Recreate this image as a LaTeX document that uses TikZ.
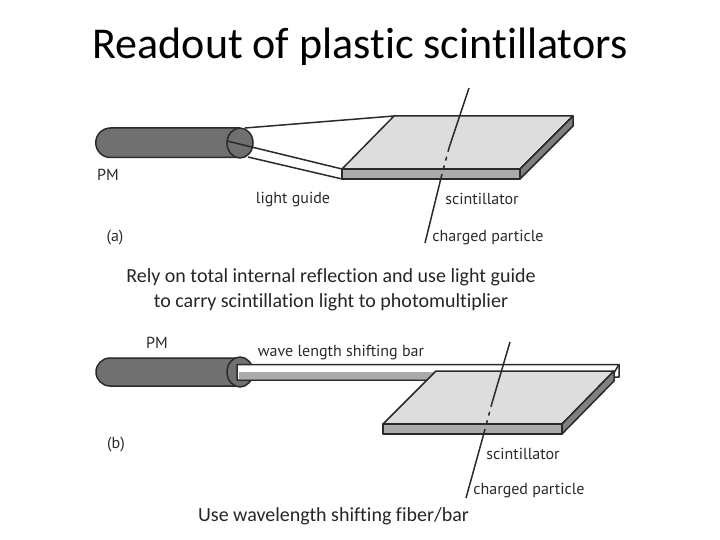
\documentclass[tikz,border=0pt]{standalone}
\usepackage{fontspec}
\setmainfont[Ligatures=NoCommon]{Carlito}
\newfontfamily\labelfont{PT Sans}
\usepackage{tikz}
\definecolor{pmgray}{HTML}{707070}
\definecolor{topgray}{HTML}{DDDDDD}
\definecolor{frontgray}{HTML}{ABABAB}
\definecolor{sidegray}{HTML}{808080}
\definecolor{inkgray}{HTML}{2A2A2A}

\begin{document}
\begin{tikzpicture}[
  x=1pt, y=-1pt,
  outline/.style={draw=inkgray, line width=1.5pt, line join=round},
  particle/.style={draw=inkgray, line width=1.5pt},
  partdash/.style={particle, dash pattern=on 4pt off 5pt},
  title/.style={inner sep=0pt, font=\fontsize{44}{47}\selectfont},
  caption/.style={inner sep=0pt, align=center, text=black!85, font=\fontsize{20}{25}\selectfont},
  tag/.style={inner sep=0pt, text=inkgray, font=\labelfont\fontsize{16}{18}\selectfont}
]
\useasboundingbox (0,0) rectangle (720,540);

\node[title] (head) at (360,47) {Readout of plastic scintillators};

% (a)
\coordinate (pa1) at (469,88);
\coordinate (pa2) at (449,148);
\coordinate (pa3) at (441,178);
\coordinate (pa4) at (425,243);
\draw[outline] (245,128) -- (394,116);
\draw[outline] (248,157) -- (342,179);
\draw[outline, fill=pmgray] (240,128) -- (110.5,128) arc (-90:-270:14.75) -- (240,157.5);
\draw[outline, fill=pmgray] (240,143) ellipse (13 and 15);
\draw[outline] (227,141) -- (342,169);
\draw[outline, fill=topgray] (342,169) -- (394,116) -- (573,116) -- (520,169) -- cycle;
\draw[outline, fill=frontgray] (342,169) -- (520,169) -- (520,179) -- (342,179) -- cycle;
\draw[outline, fill=sidegray] (520,169) -- (573,116) -- (573,126) -- (520,179) -- cycle;
\draw[particle] (pa1) -- (pa2);
\draw[partdash] (pa2) -- (pa3);
\draw[particle] (pa3) -- (pa4);

\node[tag] (pma) at (108,175) {PM};
\node[tag] (guide) at (293,200) {light guide};
\node[tag] (scinta) at (482,199) {scintillator};
\node[tag] (chargea) at (488,237.5) {charged particle};
\node[tag] (laba) at (115,238) {(a)};

\node[caption] (capa) at (331,289.5) {Rely on total internal reflection and use light guide\\to carry scintillation light to photomultiplier};

% (b)
\coordinate (pb1) at (510,342);
\coordinate (pb2) at (492,403);
\coordinate (pb3) at (484,433);
\coordinate (pb4) at (466,498);
\draw[outline, fill=pmgray] (240,358) -- (110,358) arc (-90:-270:14) -- (240,386);
\draw[outline, fill=pmgray] (240,372) ellipse (13 and 15);
\draw[outline, fill=white] (237,364.5) -- (619,364.5) -- (619,377) -- (440,380) -- (237,380) -- cycle;
\draw[draw=none, fill=frontgray] (238.5,371.5) rectangle (440,378.5);
\draw[outline] (612,376) -- (619,364.5);
\draw[outline, fill=topgray] (383,424) -- (436,371) -- (614,371) -- (562,424) -- cycle;
\draw[outline, fill=frontgray] (383,424) -- (562,424) -- (562,434) -- (383,434) -- cycle;
\draw[outline, fill=sidegray] (562,424) -- (614,371) -- (614,381) -- (562,434) -- cycle;
\draw[particle] (pb1) -- (pb2);
\draw[partdash] (pb2) -- (pb3);
\draw[particle] (pb3) -- (pb4);

\node[tag] (pmb) at (157,343) {PM};
\node[tag] (shift) at (341,353) {wave length shifting bar};
\node[tag] (scintb) at (523,454) {scintillator};
\node[tag] (chargeb) at (529,491) {charged particle};
\node[tag] (labb) at (116,445) {(b)};

\node[caption] (capb) at (333.5,516) {Use wavelength shifting fiber/bar};
\end{tikzpicture}
\end{document}
